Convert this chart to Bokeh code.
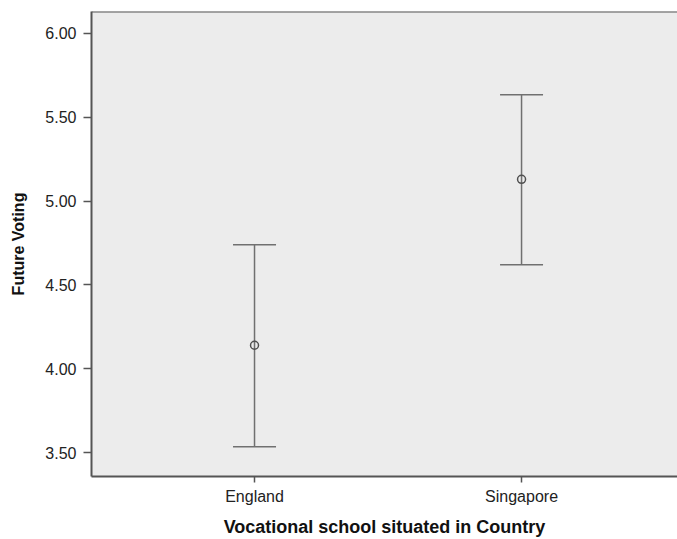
from bokeh.plotting import figure
from bokeh.models import ColumnDataSource, Whisker, TeeHead, Range1d, FixedTicker, Span
from bokeh.embed import file_html
from bokeh.resources import INLINE

# data
countries = ["England", "Singapore"]
means = [4.14, 5.13]
upper = [4.74, 5.635]
lower = [3.535, 4.62]
y_ticks = [3.5, 4.0, 4.5, 5.0, 5.5, 6.0]

xpos = list(range(len(countries)))
src = ColumnDataSource(dict(x=xpos, mean=means, upper=upper, lower=lower))

Y_START, Y_END = 3.357, 6.131
X_START, X_END = -0.6105, 1.584

p = figure(width=677, height=539, output_backend="svg", toolbar_location=None,
           x_range=Range1d(X_START, X_END), y_range=Range1d(Y_START, Y_END),
           min_border_left=91, min_border_right=0, min_border_top=11, min_border_bottom=63)
p.background_fill_color = "#ECECEC"
p.border_fill_color = "white"
p.outline_line_color = None
p.grid.visible = False

dark = "#555555"
for ax in (p.xaxis[0], p.yaxis[0]):
    ax.axis_line_color = dark
    ax.axis_line_width = 2
    ax.major_tick_line_color = dark
    ax.major_tick_line_width = 1.5
    ax.major_tick_out = 8
    ax.major_tick_in = 0
    ax.minor_tick_line_color = None
    ax.major_label_text_font = "Liberation Sans"
    ax.major_label_text_font_size = "16px"
    ax.major_label_text_color = "#222222"
    ax.axis_label_text_font = "Liberation Sans"
    ax.axis_label_text_font_style = "bold"
    ax.axis_label_text_color = "#111111"

p.yaxis.ticker = FixedTicker(ticks=y_ticks)
p.yaxis.major_label_overrides = {t: f"{t:.2f}" for t in y_ticks}
p.yaxis.axis_label = "Future Voting"
p.yaxis.axis_label_text_font_size = "16px"
p.yaxis.major_label_standoff = 7
p.yaxis.axis_label_standoff = 15

p.xaxis.ticker = FixedTicker(ticks=xpos)
p.xaxis.major_label_overrides = {i: c for i, c in enumerate(countries)}
p.xaxis.axis_label = "Vocational school situated in Country"
p.xaxis.axis_label_text_font_size = "18px"
p.xaxis.major_tick_out = 6
p.xaxis.major_label_standoff = 5
p.xaxis.axis_label_standoff = 9

top = Span(location=Y_END, dimension="width", line_color=dark, line_width=2)
p.add_layout(top)

bar_col = "#707070"
w = Whisker(source=src, base="x", upper="upper", lower="lower",
            line_color=bar_col, line_width=1.5,
            upper_head=TeeHead(size=43, line_color=bar_col, line_width=1.5),
            lower_head=TeeHead(size=43, line_color=bar_col, line_width=1.5))
p.add_layout(w)

p.scatter("x", "mean", source=src, size=8, fill_color=None,
          line_color="#505050", line_width=1.5)

open("out.html", "w").write(file_html(p, INLINE))
